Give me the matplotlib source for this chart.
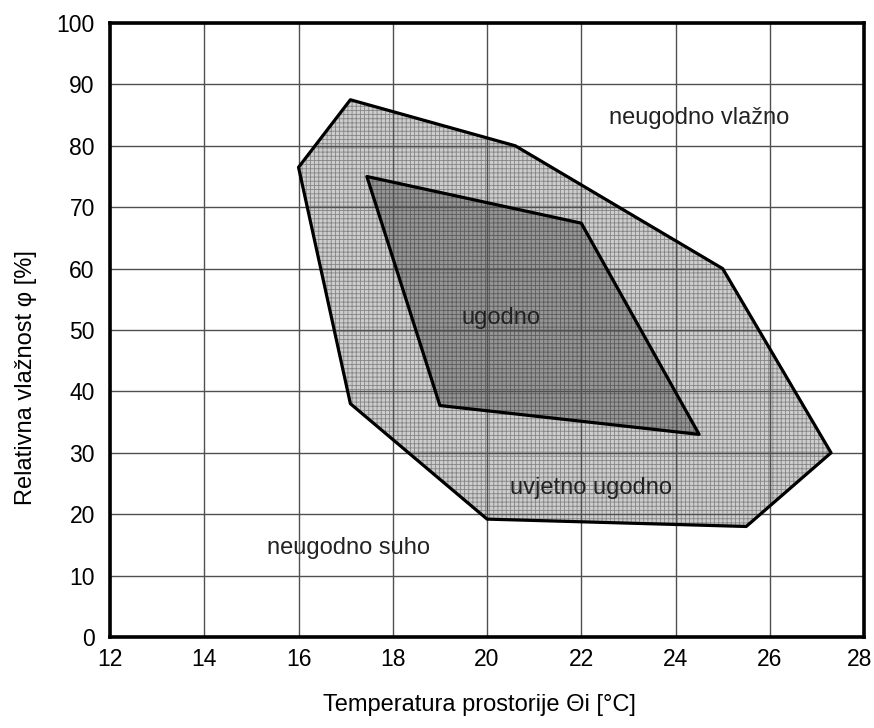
import numpy as np
import matplotlib
matplotlib.use('Agg')
import matplotlib.pyplot as plt
import matplotlib.transforms as mtransforms

plt.rcParams['font.family'] = ['Liberation Sans', 'DejaVu Sans']
plt.rcParams['hatch.linewidth'] = 0.6

# Podrucje "uvjetno ugodno" (vanjski poligon)
t_vanj = [16.0, 17.1, 20.6, 25.0, 27.3, 25.5, 20.0, 17.1]
phi_vanj = [76.5, 87.5, 80.0, 60.0, 30.0, 18.0, 19.2, 38.0]

# Podrucje "ugodno" (unutarnji poligon)
t_unut = [17.45, 22.0, 24.5, 19.0]
phi_unut = [75.0, 67.4, 33.0, 37.7]

# Natpisi podrucja
natpisi = ['neugodno vlažno', 'ugodno', 'uvjetno ugodno', 'neugodno suho']
natpisi_t = [24.5, 20.3, 22.2, 17.05]
natpisi_phi = [84.5, 52.0, 24.3, 14.5]

x_ticks = np.arange(12, 29, 2)
y_ticks = np.arange(0, 101, 10)

fig = plt.figure(figsize=(8.74, 7.28), dpi=100)
ax = fig.add_axes([0.1259, 0.125, 0.8627, 0.8434])

# ispuna s teksturom, pa obrub
ax.fill(t_vanj, phi_vanj, facecolor='#cdcdcd', edgecolor='#858585', hatch='++++', lw=0, zorder=1)
ax.fill(t_unut, phi_unut, facecolor='#959595', edgecolor='#5c5c5c', hatch='++++', lw=0, zorder=1.1)
ax.fill(t_vanj, phi_vanj, facecolor='none', edgecolor='black', lw=2.3, joinstyle='round', zorder=3)
ax.fill(t_unut, phi_unut, facecolor='none', edgecolor='black', lw=2.3, joinstyle='round', zorder=3.1)

for s, tx, ty in zip(natpisi, natpisi_t, natpisi_phi):
    ax.text(tx, ty, s, ha='center', va='center', fontsize=17, color='#222222', zorder=4)

ax.set_xlim(12, 28), ax.set_ylim(0, 100)
ax.set_xticks(x_ticks), ax.set_yticks(y_ticks)
ax.grid(True, color='#505050', lw=1.0, zorder=2)
ax.set_axisbelow(False)
ax.tick_params(length=0, labelsize=16.5)
ax.tick_params(axis='y', pad=11)
ax.tick_params(axis='x', pad=8)
for sp in ax.spines.values():
    sp.set_linewidth(2.6)
    sp.set_zorder(5)

# zadnja oznaka (28) malo ulijevo da ne izlazi iz slike
fig.canvas.draw()
lab = ax.get_xticklabels()[-1]
lab.set_transform(lab.get_transform() + mtransforms.ScaledTranslation(-0.04, 0, fig.dpi_scale_trans))

ax.set_xlabel('Temperatura prostorije Θi [°C]', fontsize=17)
ax.set_ylabel('Relativna vlažnost φ [%]', fontsize=17)
ax.xaxis.set_label_coords(0.49, -0.093)
ax.yaxis.set_label_coords(-0.097, 0.423)

fig.savefig('out.png', dpi=100)
